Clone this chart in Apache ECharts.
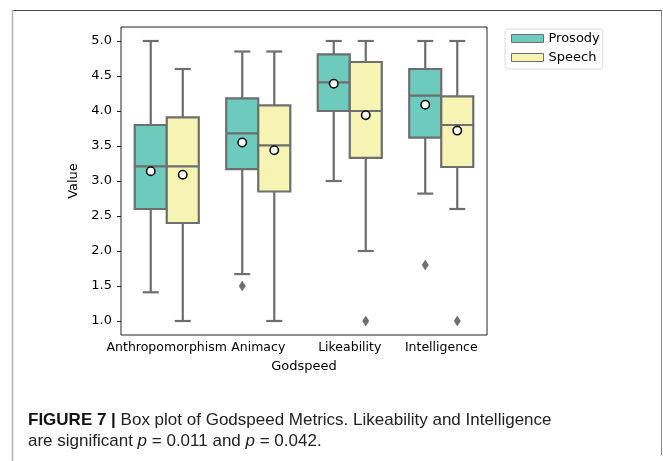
<!DOCTYPE html>
<html><head><meta charset="utf-8">
<script src="https://cdn.jsdelivr.net/npm/echarts@6/dist/echarts.min.js"></script>
<style>html,body{margin:0;padding:0;background:#fff}#c{width:663px;height:461px}</style>
</head><body><div id="c"></div>
<script>
const categories = ['Anthropomorphism', 'Animacy', 'Likeability', 'Intelligence'];
const seriesNames = ['Prosody', 'Speech'];
// [whiskerLow, Q1, median, Q3, whiskerHigh]
const prosodyBox = [[1.41, 2.6, 3.21, 3.8, 5.0], [1.67, 3.17, 3.68, 4.18, 4.85], [3.0, 4.0, 4.41, 4.81, 5.0], [2.82, 3.62, 4.22, 4.6, 5.0]];
const speechBox = [[1.0, 2.4, 3.21, 3.91, 4.6], [1.0, 2.85, 3.51, 4.08, 4.85], [2.0, 3.33, 4.0, 4.7, 5.0], [2.6, 3.2, 3.8, 4.21, 5.0]];
const prosodyMean = [3.14, 3.55, 4.39, 4.09];
const speechMean = [3.09, 3.44, 3.94, 3.72];
// [categoryIndex, value]
const prosodyOutliers = [[1, 1.5], [3, 1.8]];
const speechOutliers = [[2, 1.0], [3, 1.0]];
const yTicks = [1.0, 1.5, 2.0, 2.5, 3.0, 3.5, 4.0, 4.5, 5.0];

const TEAL = '#6dcbbd', YELLOW = '#f6f4b2', LINE = '#6e6e6e';
const FONT = 'DejaVu Sans';

function boxData(box, mean) {
  return box.map((b, i) => [i, b[0], b[1], b[2], b[3], b[4], mean[i]]);
}
function centerX(api, cat, sIdx) {
  const band = api.size([1, 0])[0];
  const w = band * 0.35;
  return { cx: api.coord([cat, 0])[0] + (sIdx === 0 ? -w / 2 : w / 2), w };
}
function boxRender(sIdx, fill) {
  return function (params, api) {
    const cat = api.value(0);
    const { cx, w } = centerX(api, cat, sIdx);
    const y = v => api.coord([cat, v])[1];
    const lo = y(api.value(1)), q1 = y(api.value(2)), md = y(api.value(3)),
      q3 = y(api.value(4)), hi = y(api.value(5)), mn = y(api.value(6));
    const ls = { stroke: LINE, lineWidth: 2.2 };
    return {
      type: 'group', children: [
        { type: 'line', shape: { x1: cx, y1: q3, x2: cx, y2: hi }, style: ls },
        { type: 'line', shape: { x1: cx, y1: q1, x2: cx, y2: lo }, style: ls },
        { type: 'line', shape: { x1: cx - w / 4, y1: hi, x2: cx + w / 4, y2: hi }, style: ls },
        { type: 'line', shape: { x1: cx - w / 4, y1: lo, x2: cx + w / 4, y2: lo }, style: ls },
        { type: 'rect', shape: { x: cx - w / 2, y: q3, width: w, height: q1 - q3 }, style: { fill: fill, stroke: LINE, lineWidth: 2.2 } },
        { type: 'line', shape: { x1: cx - w / 2, y1: md, x2: cx + w / 2, y2: md }, style: ls },
        { type: 'circle', shape: { cx: cx, cy: mn, r: 4.2 }, style: { fill: '#fff', stroke: '#111', lineWidth: 1.6 } }
      ]
    };
  };
}
function outlierRender(sIdx) {
  return function (params, api) {
    const cat = api.value(0);
    const { cx } = centerX(api, cat, sIdx);
    const cy = api.coord([cat, api.value(1)])[1];
    return {
      type: 'polygon',
      shape: { points: [[cx, cy - 5], [cx + 3.2, cy], [cx, cy + 5], [cx - 3.2, cy]] },
      style: { fill: LINE, stroke: LINE, lineWidth: 0.5 }
    };
  };
}

const chart = echarts.init(document.getElementById('c'), null, { renderer: 'canvas' });
chart.setOption({
  backgroundColor: '#fff',
  animation: false,
  textStyle: { fontFamily: FONT },
  grid: { left: 121, top: 27, right: 176, bottom: 126, show: true, borderColor: '#222', borderWidth: 1, backgroundColor: 'transparent' },
  legend: {
    left: 505, top: 29, orient: 'vertical',
    data: [
      { name: seriesNames[0], icon: 'rect', itemStyle: { color: TEAL, borderColor: LINE, borderWidth: 1 } },
      { name: seriesNames[1], icon: 'rect', itemStyle: { color: YELLOW, borderColor: LINE, borderWidth: 1 } }
    ],
    itemWidth: 32, itemHeight: 8, itemGap: 6,
    padding: [3, 3, 5, 6],
    borderColor: '#dddddd', borderWidth: 1, borderRadius: 3,
    textStyle: { fontFamily: FONT, fontSize: 13, color: '#000' }
  },
  xAxis: {
    type: 'category', data: categories,
    name: 'Godspeed', nameLocation: 'middle', nameGap: 25,
    nameTextStyle: { fontFamily: FONT, fontSize: 13, color: '#000' },
    axisLine: { show: false },
    axisTick: { alignWithLabel: true, length: 4, lineStyle: { color: '#222' } },
    axisLabel: { fontFamily: FONT, fontSize: 12.5, color: '#000', margin: 6, interval: 0 },
    splitLine: { show: false }
  },
  yAxis: {
    type: 'value', min: 0.8, max: 5.2,
    name: 'Value', nameLocation: 'middle', nameGap: 41,
    nameTextStyle: { fontFamily: FONT, fontSize: 13, color: '#000' },
    axisLine: { show: false },
    axisTick: { show: true, length: 4, lineStyle: { color: '#222' }, customValues: yTicks },
    axisLabel: { fontFamily: FONT, fontSize: 13, color: '#000', margin: 9, customValues: yTicks, formatter: v => v.toFixed(1) },
    splitLine: { show: false }
  },
  series: [
    { name: seriesNames[0], type: 'custom', data: boxData(prosodyBox, prosodyMean), encode: { x: 0, y: [1, 2, 3, 4, 5, 6] }, renderItem: boxRender(0, TEAL), itemStyle: { color: TEAL }, z: 2 },
    { name: seriesNames[1], type: 'custom', data: boxData(speechBox, speechMean), encode: { x: 0, y: [1, 2, 3, 4, 5, 6] }, renderItem: boxRender(1, YELLOW), itemStyle: { color: YELLOW }, z: 2 },
    { name: 'ProsodyOut', type: 'custom', data: prosodyOutliers, encode: { x: 0, y: 1 }, renderItem: outlierRender(0), z: 3 },
    { name: 'SpeechOut', type: 'custom', data: speechOutliers, encode: { x: 0, y: 1 }, renderItem: outlierRender(1), z: 3 }
  ],
  graphic: [
    { type: 'line', shape: { x1: 12, y1: 10.5, x2: 662, y2: 10.5 }, style: { stroke: '#444', lineWidth: 1 } },
    { type: 'line', shape: { x1: 12.5, y1: 10, x2: 12.5, y2: 461 }, style: { stroke: '#b5b5b5', lineWidth: 1.5 } },
    { type: 'line', shape: { x1: 661.5, y1: 10, x2: 661.5, y2: 455 }, style: { stroke: '#888', lineWidth: 1 } },
    {
      type: 'text', left: 28, top: 410,
      style: {
        text: '{b|FIGURE 7 |} Box plot of Godspeed Metrics. Likeability and Intelligence\nare significant {i|p} = 0.011 and {i|p} = 0.042.',
        font: '17px "Liberation Sans"', fill: '#222', lineHeight: 21,
        rich: {
          b: { fontWeight: 'bold', fontSize: 17, fontFamily: 'Liberation Sans', fill: '#111' },
          i: { fontStyle: 'italic', fontSize: 17, fontFamily: 'Liberation Sans' }
        }
      }
    }
  ]
});
</script>
</body></html>
